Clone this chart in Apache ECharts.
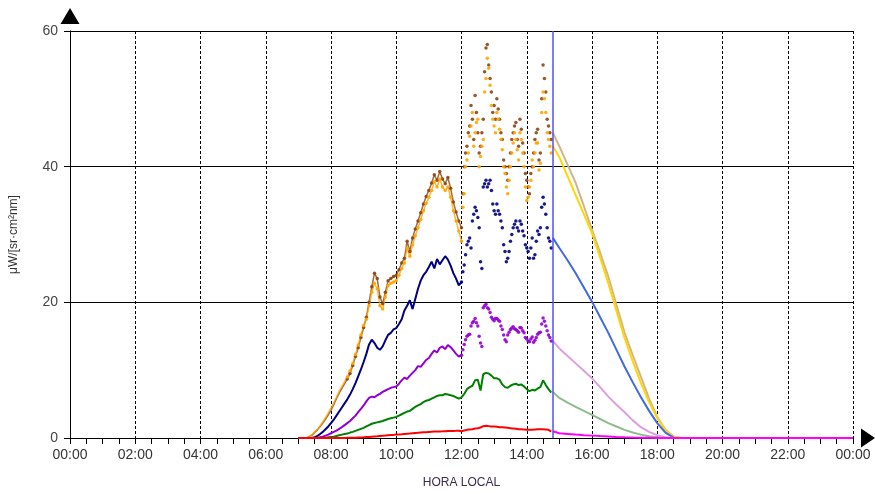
<!DOCTYPE html>
<html>
<head>
<meta charset="utf-8">
<script src="https://cdn.jsdelivr.net/npm/echarts@6/dist/echarts.min.js"></script>
<style>
  html, body { margin: 0; padding: 0; background: #fff; }
  #chart { width: 875px; height: 494px; }
</style>
</head>
<body>
<div id="chart"></div>
<script>
/* measured spectra, one value every 5 min from 07:00 to 14:45 */
const measStart = 7;
const measStep = 5 / 60;

const brown = [
  0, 0, 0, 0, 0.2, 0.4, 0.8, 1.2, 1.7, 2.2, 2.8, 3.4,
  4.1, 4.9, 5.8, 6.6, 7.3, 8.0, 8.7, 9.5, 10.7, 12.0, 13.3, 14.8,
  16.3, 17.8, 20.0, 22.3, 24.3, 23.5, 20.8, 19.8, 21.5, 23.2, 23.5, 23.8,
  24.0, 24.8, 25.8, 26.5, 29.0, 27.5, 29.5, 30.8, 32.0, 33.2, 34.5, 35.6,
  36.5, 37.6, 38.8, 38.0, 39.3, 38.2, 37.5, 38.4, 36.8, 34.8, 33.3, 32.0,
  31.0, 40.0, 43.0, 46.0, 47.0, 50.5, 45.0, 43.0, 47.0, 57.5, 55.0, 51.0,
  49.0, 50.0, 47.0, 44.0, 40.0, 38.0, 42.0, 45.0, 46.5, 43.0, 45.5, 42.0,
  38.0, 36.0, 40.0, 44.0, 45.5, 42.0, 55.0, 51.0, 46.0, 44.0
];
const orange = [
  0, 0, 0, 0, 0.2, 0.5, 0.9, 1.3, 1.8, 2.4, 3.0, 3.7,
  4.4, 5.2, 6.0, 6.9, 7.6, 8.3, 9.0, 9.9, 11.0, 12.3, 13.7, 15.2,
  16.6, 17.5, 19.5, 21.5, 22.8, 22.0, 19.5, 19.0, 20.8, 22.5, 22.8, 23.0,
  23.2, 24.0, 25.0, 25.8, 28.0, 26.8, 28.5, 29.8, 31.0, 32.2, 33.5, 34.6,
  35.5, 36.5, 37.8, 37.0, 38.2, 37.0, 36.5, 37.0, 35.5, 33.5, 32.0, 30.5,
  29.0, 36.0, 41.0, 44.5, 48.0, 45.0, 47.0, 41.5, 44.0, 53.0, 54.5, 49.0,
  46.0, 48.0, 45.5, 42.5, 39.0, 36.0, 40.0, 43.5, 44.0, 41.0, 44.0, 40.0,
  35.0, 37.0, 41.0, 42.0, 43.5, 40.5, 51.0, 48.0, 44.0, 42.0
];
const navy = [
  0, 0, 0, 0, 0, 0, 0.1, 0.3, 0.6, 0.9, 1.3, 1.7,
  2.2, 2.7, 3.3, 3.9, 4.5, 5.1, 5.7, 6.4, 7.2, 8.1, 9.1, 10.1,
  11.2, 12.4, 13.8, 14.5, 14.0, 13.3, 13.0, 13.5, 14.4, 15.2, 15.5, 16.0,
  16.2, 16.8, 17.5, 18.8, 19.5, 20.3, 19.0, 20.5, 22.0, 23.2, 24.0, 24.5,
  25.2, 26.0, 25.0, 26.4, 25.6, 26.2, 26.8, 26.3, 25.4, 24.3, 23.5, 22.5,
  23.0, 25.5, 28.5, 29.5, 32.0, 34.0, 32.5, 26.0, 37.0, 38.0, 37.5, 36.5,
  33.5, 34.5, 33.0, 31.0, 27.5, 26.5, 29.0, 31.0, 32.0, 30.5, 31.5, 29.8,
  28.0, 26.5, 29.5, 27.0, 30.5, 31.0, 35.5, 33.0, 29.5, 28.0
];
const purple = [
  0, 0, 0, 0, 0, 0, 0, 0, 0.1, 0.2, 0.35, 0.5,
  0.7, 0.9, 1.1, 1.35, 1.6, 1.9, 2.2, 2.5, 2.9, 3.3, 3.8, 4.3,
  4.8, 5.4, 5.9, 6.1, 6.0, 6.3, 6.5, 6.8, 7.0, 7.2, 7.4, 7.5,
  7.6, 8.0, 8.5, 8.9, 8.7, 9.2, 9.6, 10.0, 10.6, 10.5, 11.0, 11.5,
  11.8, 12.4, 12.9, 12.6, 13.3, 13.5, 13.1, 13.7, 13.4, 12.9, 12.4, 12.0,
  12.2, 13.8, 15.0, 15.3, 17.0, 17.6, 16.5, 14.0, 19.2, 19.7, 19.0, 17.8,
  17.3, 17.6, 17.2, 16.0, 14.5, 15.2, 16.0, 16.4, 16.0, 15.6, 16.2, 15.5,
  14.6, 14.2, 14.9, 14.4, 15.3, 15.6, 17.7, 16.5, 15.2, 14.3
];
const green = [
  0, 0, 0, 0, 0, 0, 0, 0, 0, 0, 0.05, 0.1,
  0.15, 0.2, 0.3, 0.4, 0.5, 0.6, 0.65, 0.8, 0.9, 1.05, 1.2, 1.35,
  1.5, 1.7, 1.9, 2.1, 2.2, 2.3, 2.4, 2.5, 2.65, 2.8, 2.9, 3.0,
  3.1, 3.3, 3.5, 3.7, 3.9, 4.0, 4.3, 4.6, 4.8, 5.0, 5.3, 5.5,
  5.6, 5.8, 6.0, 6.2, 6.3, 6.3, 6.5, 6.4, 6.3, 6.2, 6.0, 5.8,
  6.0, 6.5, 7.2, 7.5, 7.7, 8.5, 8.6, 7.0, 9.4, 9.6, 9.5, 9.2,
  8.8, 8.8, 8.6, 7.9, 7.5, 7.4, 7.7, 7.9, 8.0, 7.8, 7.9, 7.6,
  7.2, 6.9, 7.1, 7.0, 7.3, 7.5, 8.5, 7.8, 7.2, 6.7
];
const red = [
  0, 0, 0, 0, 0, 0, 0, 0, 0, 0, 0, 0,
  0, 0, 0, 0, 0, 0, 0.02, 0.03, 0.04, 0.05, 0.07, 0.08,
  0.1, 0.13, 0.16, 0.2, 0.23, 0.26, 0.3, 0.33, 0.36, 0.4, 0.43, 0.46,
  0.5, 0.53, 0.56, 0.6, 0.63, 0.66, 0.7, 0.73, 0.76, 0.8, 0.83, 0.86,
  0.9, 0.92, 0.94, 0.95, 0.97, 0.98, 1.0, 1.02, 1.03, 1.05, 1.06, 1.08,
  1.0, 1.1, 1.2, 1.25, 1.3, 1.4, 1.45, 1.55, 1.75, 1.8, 1.75, 1.7,
  1.7, 1.65, 1.6, 1.6, 1.55, 1.5, 1.45, 1.4, 1.35, 1.3, 1.3, 1.25,
  1.2, 1.2, 1.2, 1.25, 1.3, 1.3, 1.3, 1.25, 1.2, 0.95
];

/* extra noisy readings between the 5 min marks, 12:02:30 to 14:42:30 */
const midStart = 12 + 2.5 / 60;
const brownMid = [
  36, 42, 45, 49, 44, 48, 42, 45, 54, 58, 53, 48,
  47, 48.5, 45, 41, 39, 40, 44, 46, 44, 47, 43.5, 39,
  37, 39, 42, 45, 41, 50, 53, 47, 45
];
const orangeMid = [
  34, 40, 42, 46, 43, 46.5, 40, 43, 51, 56, 52, 47,
  45, 47, 44, 40, 37, 38, 42, 45, 42.5, 45, 42, 37,
  35.5, 38, 40, 43.5, 39.5, 48, 50, 45, 43
];
const navyMid = [
  24.5, 27, 29, 28, 33, 33.5, 31, 25, 37.5, 37, 38, 34.5,
  33, 33.5, 32, 28.5, 26, 27.5, 30, 31.5, 31, 32, 30.5, 28.5,
  27.5, 28, 26.5, 29, 30, 34, 34.5, 31, 29
];
const purpleMid = [
  13, 14.5, 15.2, 16.5, 17.2, 17, 15, 13.5, 19.5, 19.2, 18.5, 17.5,
  17.6, 17.4, 16.5, 15.2, 14.2, 15.6, 16.2, 16.1, 15.8, 16.3, 15.8, 14.8,
  14.3, 14.6, 14.1, 14.8, 15.5, 16.8, 17.2, 15.8, 14.8
];

/* modelled continuation after the cut */
const cutTime = 14.8;
const modelTimes = [14.8, 15, 15.25, 15.5, 15.75, 16, 16.25, 16.5, 16.75, 17, 17.25, 17.5, 17.75, 18, 18.25, 18.5, 18.75, 24];
const tan = [45.0, 43.0, 40.3, 37.6, 34.2, 30.7, 27.3, 23.8, 19.6, 15.5, 12.2, 9.0, 5.8, 3.1, 1.2, 0.2, 0, 0];
const yellow = [43.0, 41.4, 38.6, 35.8, 33.0, 30.2, 26.6, 22.8, 18.7, 14.7, 11.3, 8.1, 5.3, 2.9, 1.1, 0.15, 0, 0];
const blue = [29.5, 28.0, 26.2, 24.3, 22.2, 20.1, 17.8, 15.5, 13.0, 10.5, 8.2, 6.0, 4.0, 2.2, 0.8, 0.05, 0, 0];
const pink = [14.3, 13.2, 12.1, 11.0, 9.9, 8.8, 7.5, 6.1, 4.9, 3.8, 2.6, 1.6, 0.9, 0.4, 0.1, 0, 0, 0];
const lightGreen = [6.8, 5.9, 5.2, 4.6, 4.0, 3.4, 2.8, 2.2, 1.7, 1.2, 0.8, 0.5, 0.25, 0.1, 0, 0, 0, 0];
const magenta = [1.0, 0.7, 0.6, 0.5, 0.42, 0.35, 0.28, 0.22, 0.16, 0.11, 0.07, 0.04, 0.02, 0, 0, 0, 0, 0];

/* helpers */
function measPts(arr, from, to) {
  let res = [];
  let start = from || 0;
  let end = to === undefined ? arr.length : to;
  for (let i = start; i < end; i++) {
    res.push([measStart + i * measStep, arr[i]]);
  }
  return res;
}
function midPts(arr) {
  return arr.map(function (v, i) { return [midStart + i * measStep, v]; });
}
function modelPts(arr) {
  return modelTimes.map(function (t, i) { return [t, arr[i]]; });
}
function lineSeries(data, color, width, opacity) {
  return {
    type: "line", data: data, showSymbol: false, smooth: false,
    lineStyle: { color: color, width: width, opacity: opacity === undefined ? 1 : opacity },
    itemStyle: { color: color }, z: 3
  };
}
function dotSeries(data, color) {
  return {
    type: "scatter", data: data, symbolSize: 3.5,
    itemStyle: { color: color, opacity: 0.9 }, z: 4
  };
}
function hourLabel(v) {
  let h = Math.round(v) % 24;
  return (h < 10 ? "0" : "") + h + ":00";
}

const fontFam = "'Liberation Sans', Arial, sans-serif";
const myChart = echarts.init(document.getElementById("chart"));
const option = {
  animation: false,
  backgroundColor: "#fff",
  grid: { left: 70, right: 22, top: 31, bottom: 56 },
  xAxis: {
    type: "value", min: 0, max: 24, interval: 2,
    name: "HORA LOCAL", nameLocation: "middle", nameGap: 39,
    nameTextStyle: { color: "#3b2a4c", fontSize: 12, fontFamily: fontFam },
    axisLine: {
      show: true, symbol: ["none", "triangle"], symbolSize: [19, 14], symbolOffset: [0, 15],
      lineStyle: { color: "#000", width: 1 }
    },
    axisTick: { show: true, length: 6, lineStyle: { color: "#000" } },
    minorTick: { show: true, splitNumber: 4, length: 6, lineStyle: { color: "#000" } },
    axisLabel: {
      formatter: hourLabel, color: "#333", fontSize: 14, margin: 10,
      fontFamily: fontFam, showMinLabel: true, showMaxLabel: true
    },
    splitLine: { show: true, lineStyle: { color: "#000", type: [3, 2], width: 1 } }
  },
  yAxis: {
    type: "value", min: 0, max: 60, interval: 20,
    name: "μW/[sr·cm²nm]", nameLocation: "middle", nameGap: 50,
    nameTextStyle: { color: "#333", fontSize: 12, fontFamily: fontFam },
    axisLine: {
      show: true, symbol: ["none", "triangle"], symbolSize: [19, 16], symbolOffset: [0, 15],
      lineStyle: { color: "#000", width: 1 }
    },
    axisTick: { show: true, length: 6, lineStyle: { color: "#000" } },
    axisLabel: { color: "#444", fontSize: 14, margin: 12, fontFamily: fontFam },
    splitLine: { show: true, lineStyle: { color: "#000", width: 1 } }
  },
  series: [
    lineSeries(measPts(brown, 0, 61), "#8b4513", 1.5, 0.8),
    lineSeries(measPts(orange, 0, 61), "#ffa500", 1.5, 0.8),
    dotSeries(measPts(brown, 18), "#8b4513"),
    dotSeries(midPts(brownMid), "#8b4513"),
    dotSeries(measPts(orange, 18), "#ffa500"),
    dotSeries(midPts(orangeMid), "#ffa500"),
    lineSeries(measPts(navy, 0, 61), "#000080", 2),
    dotSeries(measPts(navy, 60), "#000080"),
    dotSeries(midPts(navyMid), "#000080"),
    lineSeries(measPts(purple, 0, 61), "#9400d3", 2),
    dotSeries(measPts(purple, 60), "#9400d3"),
    dotSeries(midPts(purpleMid), "#9400d3"),
    lineSeries(measPts(green), "#008000", 2),
    lineSeries(measPts(red), "#ff0000", 2),
    Object.assign(lineSeries(modelPts(tan), "#d2b48c", 2), {
      markLine: {
        silent: true, symbol: "none", label: { show: false },
        lineStyle: { color: "#4f4fff", width: 1.5, type: "solid" },
        data: [{ xAxis: cutTime }]
      }
    }),
    lineSeries(modelPts(yellow), "#ffd700", 2),
    lineSeries(modelPts(blue), "#4169e1", 2),
    lineSeries(modelPts(pink), "#dda0dd", 2),
    lineSeries(modelPts(lightGreen), "#8fbc8f", 2),
    lineSeries(modelPts(magenta), "#ff00ff", 2)
  ]
};
myChart.setOption(option);
</script>
</body>
</html>
